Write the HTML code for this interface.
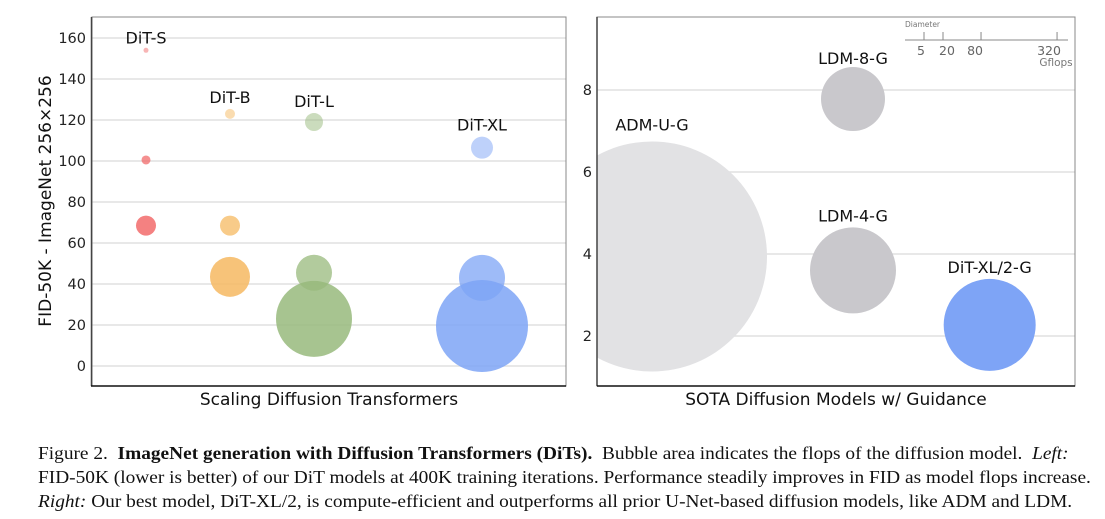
<!DOCTYPE html>
<html><head><meta charset="utf-8"><style>
body{margin:0;background:#fff;width:1105px;height:519px;overflow:hidden}
svg text{font-family:"DejaVu Sans","Liberation Sans",sans-serif}
.cap{position:absolute;left:38px;font-family:"Liberation Serif",serif;font-size:18px;color:#111;white-space:nowrap;transform:scaleX(1.075);transform-origin:0 0}
</style></head><body>
<svg id="c" width="1105" height="519" style="position:absolute;left:0;top:0">
<defs>
<clipPath id="cl"><rect x="92" y="17" width="474" height="369"/></clipPath>
<clipPath id="cr"><rect x="597" y="17" width="478" height="369"/></clipPath>
</defs>
<g id="left"></g>
<g id="right"></g>
</svg>
<div class="cap" style="top:443px">Figure 2. &nbsp;<b>ImageNet generation with Diffusion Transformers (DiTs).</b> &nbsp;Bubble area indicates the flops of the diffusion model. &nbsp;<i>Left:</i></div>
<div class="cap" style="top:467px">FID-50K (lower is better) of our DiT models at 400K training iterations. Performance steadily improves in FID as model flops increase.</div>
<div class="cap" style="top:491px"><i>Right:</i> Our best model, DiT-XL/2, is compute-efficient and outperforms all prior U-Net-based diffusion models, like ADM and LDM.</div>
<script>
// Left chart data
const leftModels = ["DiT-S","DiT-B","DiT-L","DiT-XL"];
const leftX = [1,2,3,5];
const leftFidP8 = [154,123,119,106.5];
const leftFidP4 = [100.5,68.5,45.5,43];
const leftFidP2 = [68.5,43.5,23,19.5];
const leftRadP8 = [2.5,5,9,11];
const leftRadP4 = [4.5,10,18,23];
const leftRadP2 = [10,20,38,46];
const leftColors = ["#f26b6b","#f6b962","#98ba7c","#7ea4f6"];
const leftTicks = [0,20,40,60,80,100,120,140,160];
// Right chart data
const rightModels = ["ADM-U-G","LDM-8-G","LDM-4-G","DiT-XL/2-G"];
const rightXAll = [1,2,2,2.68];
const rightFid = [3.94,7.78,3.6,2.27];
const rightRad = [115,32,43,46];
const rightColors = ["#e2e2e4","#c9c8cc","#c9c8cc","#7ea4f6"];
const rightTicks = [2,4,6,8];
const legendGflops = [5,20,80,320];

const NS="http://www.w3.org/2000/svg";
function mk(p,t,a,txt){const e=document.createElementNS(NS,t);for(const k in a)e.setAttribute(k,a[k]);if(txt!==undefined)e.textContent=txt;p.appendChild(e);return e;}
const lx=v=>146+(v-1)*84, ly=v=>366-v*2.05;
const rx=v=>652+(v-1)*201, ry=v=>336-(v-2)*41;

const L=document.getElementById('left');
leftTicks.forEach(t=>{
 let g=mk(L,'line',{x1:92,x2:566,y1:ly(t),y2:ly(t),stroke:'#e0e0e0','stroke-width':1.5});
 
 
 let tx=mk(L,'text',{x:86,y:ly(t)+5,'text-anchor':'end','font-size':14.5,fill:'#222'},t);
 
 
});
const lb=mk(L,'g',{'clip-path':'url(#cl)'});
leftModels.forEach((m,i)=>{
 [[leftFidP2,leftRadP2,0.85],[leftFidP4,leftRadP4,0.75],[leftFidP8,leftRadP8,0.5]].forEach(([f,r,o])=>{
  let c=mk(lb,'circle',{cx:lx(leftX[i]),cy:ly(f[i]),r:r[i],fill:leftColors[i],'fill-opacity':o});
  
  
 });
 let t=mk(L,'text',{x:lx(leftX[i]),y:ly(leftFidP8[i])-Math.max(leftRadP8[i],5)-6+(i==0?4:0),'text-anchor':'middle','font-size':16,fill:'#111'},m);
 
 
});
mk(L,'rect',{x:92,y:17,width:474,height:369,fill:'none',stroke:'#888','stroke-width':1});
mk(L,'line',{x1:91.5,x2:91.5,y1:17,y2:386,stroke:'#444','stroke-width':1.5});
mk(L,'line',{x1:91,x2:566,y1:386,y2:386,stroke:'#111','stroke-width':1.5});
let yt=mk(L,'text',{x:0,y:0,transform:'translate(51,201) rotate(-90)','text-anchor':'middle','font-size':17,fill:'#111'},'FID-50K - ImageNet 256×256');


let xt=mk(L,'text',{x:329,y:405,'text-anchor':'middle','font-size':17,fill:'#111'},'Scaling Diffusion Transformers');



const R=document.getElementById('right');
rightTicks.forEach(t=>{
 let g=mk(R,'line',{x1:597,x2:1075,y1:ry(t),y2:ry(t),stroke:'#e0e0e0','stroke-width':1.5});
 
 
 let tx=mk(R,'text',{x:592,y:ry(t)+5,'text-anchor':'end','font-size':14.5,fill:'#222'},t);
 
 
});
const rb=mk(R,'g',{'clip-path':'url(#cr)'});
rightModels.forEach((m,i)=>{
 let c=mk(rb,'circle',{cx:rx(rightXAll[i]),cy:ry(rightFid[i]),r:rightRad[i],fill:rightColors[i]});
 
 
 let t=mk(R,'text',{x:rx(rightXAll[i]),y:ry(rightFid[i])-rightRad[i]-(i==0?11:6)+(i==1?3:0),'text-anchor':'middle','font-size':16,fill:'#111'},m);
 
 
});
mk(R,'rect',{x:597,y:17,width:478,height:369,fill:'none',stroke:'#888','stroke-width':1});
mk(R,'line',{x1:597,x2:597,y1:17,y2:386,stroke:'#444','stroke-width':1.5});
mk(R,'line',{x1:597,x2:1075,y1:386,y2:386,stroke:'#111','stroke-width':1.5});
let rxt=mk(R,'text',{x:836,y:405,'text-anchor':'middle','font-size':17,fill:'#111'},'SOTA Diffusion Models w/ Guidance');


// legend
const lg=mk(R,'g',{});


mk(lg,'text',{x:905,y:27,'font-size':7.5,fill:'#777'},'Diameter');
mk(lg,'line',{x1:905,x2:1068,y1:40,y2:40,stroke:'#888','stroke-width':1});
const lgx=v=>905+8.5*Math.sqrt(v);
legendGflops.forEach(g=>{
 mk(lg,'line',{x1:lgx(g),x2:lgx(g),y1:32,y2:40,stroke:'#888','stroke-width':1});
 let t=mk(lg,'text',{x:lgx(g)-(g==320?8:(g==5?3:(g==20?-4:6))),y:55,'text-anchor':'middle','font-size':12.5,fill:'#666'},g);
 
 
});
mk(lg,'text',{x:1056,y:66,'text-anchor':'middle','font-size':10.5,fill:'#777'},'Gflops');
</script>
</body></html>
